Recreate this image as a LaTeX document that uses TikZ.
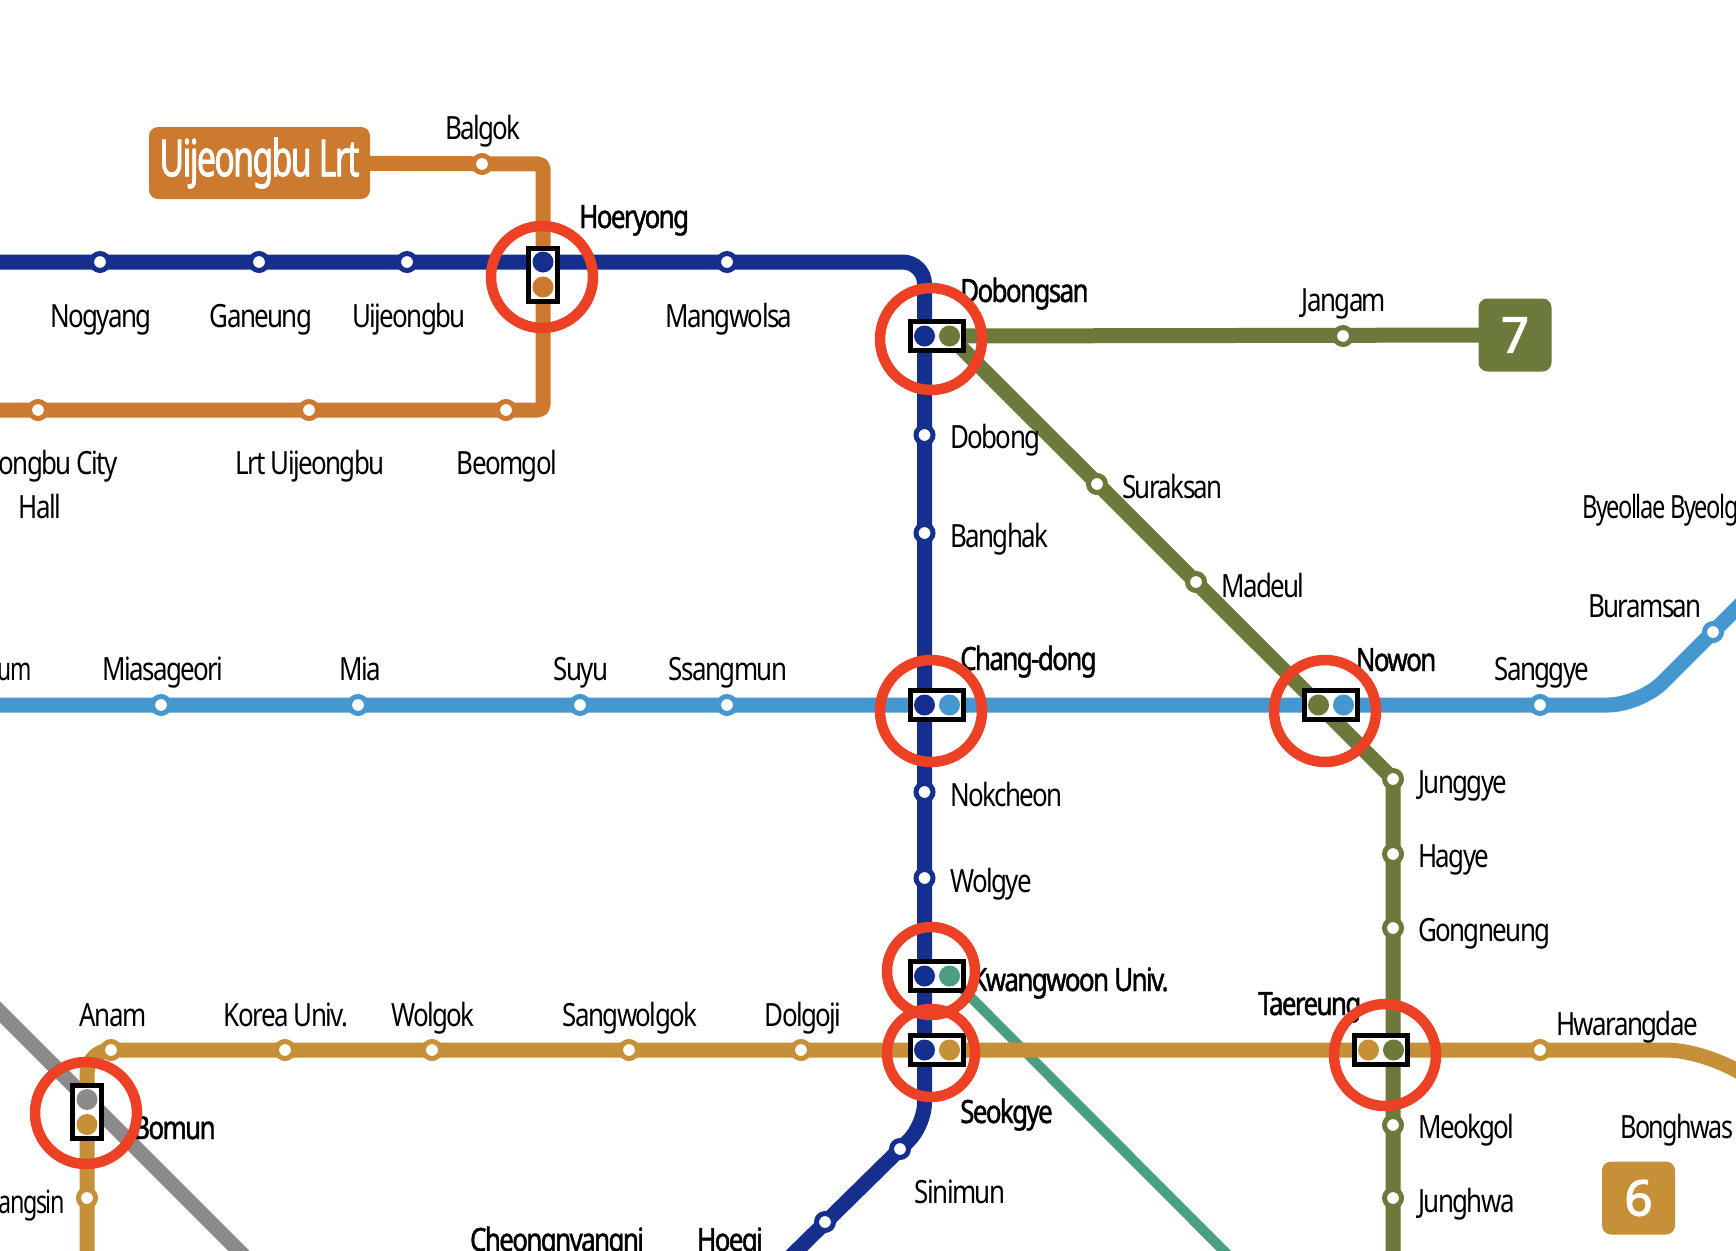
\documentclass[tikz,border=0pt]{standalone}
\usepackage{fontspec}
\usepackage{tikz}
\usetikzlibrary{backgrounds}
\setmainfont{Noto Sans}[FakeStretch=0.81,LetterSpace=-5,AutoFakeBold=1.3]
\newfontfamily\badgefont{Noto Sans}[FakeStretch=0.66,LetterSpace=-3,FakeBold=1.5]
\newfontfamily\digitfont{Noto Sans}[FakeBold=2.5]
\definecolor{lineblue}{HTML}{152F8F}
\definecolor{lineolive}{HTML}{6B7A3A}
\definecolor{linesky}{HTML}{4497CF}
\definecolor{linelrt}{HTML}{CB7A30}
\definecolor{linegold}{HTML}{C59038}
\definecolor{lineteal}{HTML}{4A9F82}
\definecolor{linegrey}{HTML}{8A8A8A}
\definecolor{ringred}{HTML}{EC4124}

\begin{document}
\begin{tikzpicture}[x=1pt,y=-1pt,
    ln/.style={line width=15pt,line join=round},
    stn/.style={circle,fill=white,line width=5pt,minimum size=17pt,inner sep=0pt},
    lbl/.style={font=\fontsize{32}{36}\selectfont,inner sep=0pt,anchor=base},
    lblw/.style={lbl,anchor=base west},
    lble/.style={lbl,anchor=base east},
    bold/.style={font=\fontsize{32}{36}\selectfont\bfseries},
    tbox/.style={rectangle,draw=black,fill=white,line width=5pt,inner sep=0pt},
    tdot/.style={circle,inner sep=0pt,minimum size=21pt},
    ring/.style={circle,draw=ringred,line width=10.5pt,inner sep=0pt},
    badge/.style={rectangle,rounded corners=9pt,inner sep=0pt,text=white}]
\useasboundingbox (0,0) rectangle (1736,1250);

% stations
\foreach \name/\x/\y in {nogyang/100/262,ganeung/259/262,uijeongbu/407/262,mangwolsa/727/262,dobong/924.5/435,banghak/924.5/533,nokcheon/924.5/792,wolgye/924.5/878,sinimun/900/1149,hoegi/825/1222}
    \node[stn,draw=lineblue] (\name) at (\x,\y) {};
\foreach \name/\x/\y in {jangam/1343/336,suraksan/1097/484,madeul/1196/582,junggye/1393/779,hagye/1393/854,gongneung/1393/928,meokgol/1393/1125,junghwa/1393/1198}
    \node[stn,draw=lineolive] (\name) at (\x,\y) {};
\foreach \name/\x/\y in {miasageori/161/705,mia/358/705,suyu/580/705,ssangmun/727/705,sanggye/1540/705,buramsan/1713/632}
    \node[stn,draw=linesky] (\name) at (\x,\y) {};
\foreach \name/\x/\y in {balgok/482/164,cityhall/38/410,lrtuijeongbu/309/410,beomgol/506/410}
    \node[stn,draw=linelrt] (\name) at (\x,\y) {};
\foreach \name/\x/\y in {anam/111/1050,koreauniv/285/1050,wolgok/432/1050,sangwolgok/629/1050,dolgoji/801/1050,hwarangdae/1540/1050,changsin/87/1198}
    \node[stn,draw=linegold] (\name) at (\x,\y) {};

% labels
\node[lbl] (tBalgok) at (483,139) {Balgok};
\node[lblw,bold] (tHoeryong) at (579,228) {Hoeryong};
\node[lbl] (tNogyang) at (101,327) {Nogyang};
\node[lbl] (tGaneung) at (261,327) {Ganeung};
\node[lbl] (tUijeongbu) at (409,327) {Uijeongbu};
\node[lbl] (tMangwolsa) at (729,327) {Mangwolsa};
\node[lble] (tCity) at (118,474) {ongbu City};
\node[lbl] (tHall) at (40,518) {Hall};
\node[lbl] (tLrt) at (310,474) {Lrt Uijeongbu};
\node[lbl] (tBeomgol) at (507,474) {Beomgol};
\node[lblw,bold] (tDobongsan) at (960,302) {Dobongsan};
\node[lbl] (tJangam) at (1344,311) {Jangam};
\node[lblw] (tDobong) at (950,448) {Dobong};
\node[lblw] (tBanghak) at (950,547) {Banghak};
\node[lblw] (tSuraksan) at (1122,498) {Suraksan};
\node[lblw] (tMadeul) at (1221,597) {Madeul};
\node[lblw] (tByeollae) at (1582,518) {\scalebox{.91}[1]{Byeollae Byeolg}};
\node[lbl] (tBuramsan) at (1645,617) {Buramsan};
\node[lble] (tGireum) at (32,680) {\scalebox{.88}[1]{um}};
\node[lbl] (tMiasageori) at (163,680) {Miasageori};
\node[lbl] (tMia) at (360,680) {Mia};
\node[lbl] (tSuyu) at (581,680) {Suyu};
\node[lbl] (tSsangmun) at (728,680) {Ssangmun};
\node[lblw,bold] (tChangdong) at (960,670) {Chang-dong};
\node[lbl,bold] (tNowon) at (1396,671) {Nowon};
\node[lbl] (tSanggye) at (1542,680) {Sanggye};
\node[lblw] (tNokcheon) at (950,806) {Nokcheon};
\node[lblw] (tWolgye) at (950,892) {Wolgye};
\node[lblw] (tJunggye) at (1418,793) {Junggye};
\node[lblw] (tHagye) at (1418,867) {Hagye};
\node[lblw] (tGongneung) at (1418,941) {Gongneung};
\node[lblw,bold] (tKwangwoon) at (971,991) {Kwangwoon Univ.};
\node[lblw,bold] (tTaereung) at (1258,1015) {Taereung};
\node[lbl] (tHwarangdae) at (1627,1035) {Hwarangdae};
\node[lbl] (tAnam) at (113,1026) {Anam};
\node[lbl] (tKorea) at (286,1026) {Korea Univ.};
\node[lbl] (tWolgok) at (433,1026) {Wolgok};
\node[lbl] (tSangwolgok) at (630,1026) {Sangwolgok};
\node[lbl] (tDolgoji) at (803,1026) {Dolgoji};
\node[lblw,bold] (tBomun) at (133,1139) {Bomun};
\node[lblw,bold] (tSeokgye) at (960,1123) {Seokgye};
\node[lblw] (tMeokgol) at (1418,1138) {Meokgol};
\node[lblw] (tBonghwasan) at (1620,1138) {\scalebox{.97}[1]{Bonghwas}};
\node[lbl] (tSinimun) at (960,1203) {Sinimun};
\node[lblw] (tJunghwa) at (1418,1212) {Junghwa};
\node[lble] (tChangsin) at (65,1213) {\scalebox{.9}[1]{angsin}};
\node[lbl,bold] (tCheong) at (557,1251) {Cheongnyangni};
\node[lbl,bold] (tHoegi) at (730,1251) {Hoegi};

% badges
\node[badge,fill=linelrt,minimum width=221pt,minimum height=72pt,font=\fontsize{51}{54}\selectfont\badgefont] (bLrt) at (259.5,163) {\raisebox{-4pt}{Uijeongbu Lrt}};
\node[badge,fill=lineolive,minimum size=73pt,font=\fontsize{49}{50}\selectfont\digitfont] (b7) at (1515,335) {7};
\node[badge,fill=linegold,minimum size=73pt,font=\fontsize{49}{50}\selectfont\digitfont] (b6) at (1638.5,1198) {6};

% transfer boxes
\foreach \name/\x/\y/\ca/\cb in {dobongsan/937/336/lineblue/lineolive,changdong/937/705/lineblue/linesky,nowon/1331/705/lineolive/linesky,kwangwoon/937/976/lineblue/lineteal,seokgye/937/1050/lineblue/linegold,taereung/1381/1050/linegold/lineolive}{
    \node[tbox,minimum width=53pt,minimum height=29pt] (\name) at (\x,\y) {};
    \node[tdot,fill=\ca] (\name A) at (\x-12.5,\y) {};
    \node[tdot,fill=\cb] (\name B) at (\x+12.5,\y) {};
}
\foreach \name/\x/\y/\ca/\cb in {hoeryong/543/274.5/lineblue/linelrt,bomun/87/1112/linegrey/linegold}{
    \node[tbox,minimum width=29pt,minimum height=53pt] (\name) at (\x,\y) {};
    \node[tdot,fill=\ca] (\name A) at (\x,\y-12.5) {};
    \node[tdot,fill=\cb] (\name B) at (\x,\y+12.5) {};
}

% rings
\foreach \name/\x/\y/\d in {hoeryong/542/277/102,dobongsan/931/339/102,changdong/931/711/102,nowon/1325/711/102,kwangwoon/931/971/88,seokgye/931/1053/88,taereung/1385/1055/102,bomun/86/1113/102}
    \node[ring,minimum size=\d pt] (r\name) at (\x,\y) {};

% free ends and bends
\coordinate (blueW) at (-10,262);
\coordinate (blueNE) at (924.5,262);
\coordinate (blueSE) at (924.5,1125);
\coordinate (blueS) at (780,1267);
\coordinate (oliveS) at (1393,1260);
\coordinate (skyW) at (-10,705);
\coordinate (skyBend) at (1640,705);
\coordinate (skyNE) at (1760,585);
\coordinate (lrtNE) at (543,164);
\coordinate (lrtSE) at (543,410);
\coordinate (lrtW) at (-10,410);
\coordinate (goldBend) at (87,1050);
\coordinate (goldS) at (87,1260);
\coordinate (goldE) at (1725,1050);
\coordinate (goldSE) at (1805,1130);
\coordinate (tealS) at (1233,1260);
\coordinate (greyNW) at (-10,1002);
\coordinate (greyS) at (248,1260);

\begin{scope}[on background layer]
\draw[line width=10pt,lineteal] (kwangwoonB.center) -- (tealS);
\draw[ln,linegrey] (greyNW) -- (greyS);
\draw[ln,lineblue,rounded corners=22pt] (blueW) -- (hoeryongA.center) -- (blueNE) -- (dobongsanA.center) -- (seokgyeA.center) -- (blueSE) -- (blueS);
\draw[ln,lineolive] (dobongsanB.center) -- (b7.center);
\draw[ln,lineolive] (dobongsanB.center) -- (junggye.center) -- (oliveS);
\draw[ln,linesky,rounded corners=32pt] (skyW) -- (skyBend) -- (skyNE);
\draw[ln,linelrt,rounded corners=5pt] (bLrt.center) -- (lrtNE) -- (lrtSE) -- (lrtW);
\draw[ln,linegold,rounded corners=24pt] (goldS) -- (goldBend) -- (anam.center);
\draw[ln,linegold,rounded corners=60pt] (anam.center) -- (goldE) -- (goldSE);
\end{scope}
\end{tikzpicture}
\end{document}
